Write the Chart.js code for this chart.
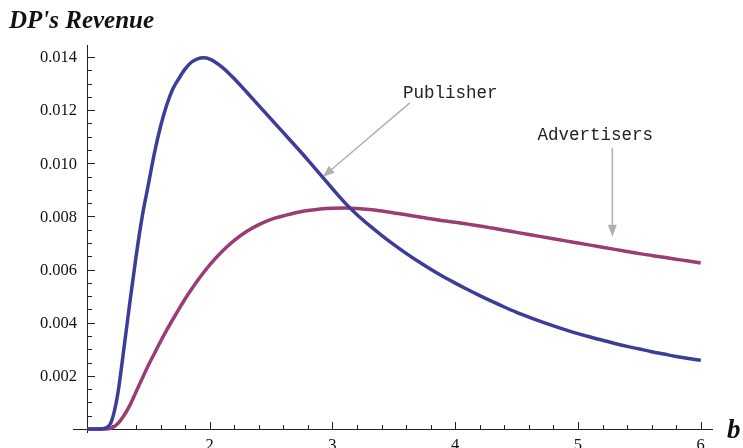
<!DOCTYPE html>
<html>
<head>
<meta charset="utf-8">
<script src="https://cdn.jsdelivr.net/npm/chart.js@4"></script>
<style>
  html, body { margin: 0; padding: 0; background: #fff; }
  #wrap { width: 743px; height: 448px; }
</style>
</head>
<body>
<div id="wrap"><canvas id="revChart" width="743" height="448"></canvas></div>
<script>
// valores de b (eixo x)
const bValues = [
  1.00, 1.05, 1.10, 1.15, 1.20, 1.25, 1.30, 1.35, 1.40, 1.45,
  1.50, 1.55, 1.60, 1.65, 1.70, 1.75, 1.80, 1.85, 1.90, 1.95,
  2.0, 2.1, 2.2, 2.3, 2.4, 2.5, 2.6, 2.7, 2.8, 2.9,
  3.0, 3.1, 3.2, 3.3, 3.4, 3.5, 3.6, 3.7, 3.8, 3.9,
  4.0, 4.1, 4.2, 4.3, 4.4, 4.5, 4.6, 4.7, 4.8, 4.9,
  5.0, 5.1, 5.2, 5.3, 5.4, 5.5, 5.6, 5.7, 5.8, 5.9, 6.0
];

// receita do publisher (curva azul)
const publisherRevenue = [
  0, 0, 0, 0.00003, 0.0003, 0.0013, 0.0030, 0.0048, 0.0065, 0.0080,
  0.0092, 0.0104, 0.0114, 0.0122, 0.0128, 0.0132, 0.01355, 0.0138, 0.01393, 0.01397,
  0.01392, 0.01362, 0.01318, 0.01268, 0.01217, 0.01166, 0.01115, 0.01064, 0.01012, 0.00958,
  0.00904, 0.00852, 0.00806, 0.00766, 0.00729, 0.00694, 0.00661, 0.00630, 0.00601, 0.00574,
  0.00549, 0.00525, 0.00502, 0.00480, 0.00459, 0.00439, 0.00421, 0.00404, 0.00388, 0.00373,
  0.00359, 0.00346, 0.00334, 0.00322, 0.00311, 0.00301, 0.00291, 0.00282, 0.00273, 0.00265, 0.00258
];

// receita dos anunciantes (curva roxa)
const advertiserRevenue = [
  0, 0, 0, 0, 0.00004, 0.0002, 0.0005, 0.0009, 0.0014, 0.0019,
  0.0024, 0.00285, 0.0033, 0.00373, 0.00413, 0.00452, 0.0049, 0.00525, 0.00558, 0.00589,
  0.00618, 0.00668, 0.00710, 0.00743, 0.00769, 0.00789, 0.00802, 0.00814, 0.00822, 0.00828,
  0.00831, 0.00832, 0.00830, 0.00826, 0.00820, 0.00813, 0.00806, 0.00799, 0.00791, 0.00784,
  0.00778, 0.00771, 0.00764, 0.00756, 0.00748, 0.00740, 0.00732, 0.00724, 0.00716, 0.00708,
  0.00700, 0.00692, 0.00684, 0.00676, 0.00668, 0.00660, 0.00653, 0.00646, 0.00639, 0.00632, 0.00625
];

// ticks
const xMajorTicks = [2, 3, 4, 5, 6];
const xMinorTicks = [1.2, 1.4, 1.6, 1.8, 2.2, 2.4, 2.6, 2.8, 3.2, 3.4, 3.6, 3.8,
  4.2, 4.4, 4.6, 4.8, 5.2, 5.4, 5.6, 5.8];
const yMajorTicks = [0.002, 0.004, 0.006, 0.008, 0.010, 0.012, 0.014];
const yMajorLabels = ['0.002', '0.004', '0.006', '0.008', '0.010', '0.012', '0.014'];
const yMinorTicks = [0.0005, 0.001, 0.0015, 0.0025, 0.003, 0.0035, 0.0045, 0.005, 0.0055,
  0.0065, 0.007, 0.0075, 0.0085, 0.009, 0.0095, 0.0105, 0.011, 0.0115,
  0.0125, 0.013, 0.0135];

// anotações (em coordenadas dos dados)
const annotLabels = ['Publisher', 'Advertisers'];
const annotTextPos = [[3.575, 0.01246], [4.67, 0.01088]];
const annotArrowFrom = [[3.63, 0.01227], [5.28, 0.01058]];
const annotArrowTo = [[2.92, 0.00948], [5.28, 0.00723]];

// Plugin que desenha eixos no estilo Mathematica
const axesPlugin = {
  id: 'mmaAxes',
  beforeDatasetsDraw(chart) {
    const ctx = chart.ctx;
    const xs = chart.scales.x;
    const ys = chart.scales.y;
    const x0 = xs.getPixelForValue(1);
    const y0 = ys.getPixelForValue(0);

    ctx.save();
    ctx.strokeStyle = '#222';
    ctx.lineWidth = 1;

    // linhas dos eixos
    ctx.beginPath();
    ctx.moveTo(x0 - 14, y0 + 0.5);
    ctx.lineTo(xs.right, y0 + 0.5);
    ctx.moveTo(x0 + 0.5, ys.top);
    ctx.lineTo(x0 + 0.5, y0 + 4);
    ctx.stroke();

    // ticks em x
    ctx.beginPath();
    xMajorTicks.forEach(v => {
      const p = Math.round(xs.getPixelForValue(v)) + 0.5;
      ctx.moveTo(p, y0); ctx.lineTo(p, y0 - 7);
    });
    xMinorTicks.forEach(v => {
      const p = Math.round(xs.getPixelForValue(v)) + 0.5;
      ctx.moveTo(p, y0); ctx.lineTo(p, y0 - 4);
    });
    // ticks em y
    yMajorTicks.forEach(v => {
      const p = Math.round(ys.getPixelForValue(v)) + 0.5;
      ctx.moveTo(x0, p); ctx.lineTo(x0 + 8, p);
    });
    yMinorTicks.forEach(v => {
      const p = Math.round(ys.getPixelForValue(v)) + 0.5;
      ctx.moveTo(x0, p); ctx.lineTo(x0 + 5, p);
    });
    ctx.stroke();

    // rótulos
    ctx.fillStyle = '#111';
    ctx.font = '16.5px "Liberation Serif", "Times New Roman", serif';
    ctx.textAlign = 'right';
    ctx.textBaseline = 'middle';
    yMajorTicks.forEach((v, i) => {
      ctx.fillText(yMajorLabels[i], x0 - 10, ys.getPixelForValue(v) + 1);
    });
    ctx.textAlign = 'center';
    ctx.textBaseline = 'top';
    xMajorTicks.forEach(v => {
      ctx.fillText(String(v), xs.getPixelForValue(v), y0 + 8);
    });

    // título e rótulo do eixo x
    ctx.textAlign = 'left';
    ctx.textBaseline = 'alphabetic';
    ctx.font = 'italic bold 25px "Liberation Serif", "Times New Roman", serif';
    ctx.fillText("DP's Revenue", 9, 28);
    ctx.font = 'italic bold 27px "Liberation Serif", "Times New Roman", serif';
    ctx.fillText('b', 727, 438);

    // anotações com setas
    ctx.strokeStyle = '#b0b0b0';
    ctx.fillStyle = '#b0b0b0';
    ctx.lineWidth = 1.5;
    annotLabels.forEach((lbl, i) => {
      const fx = xs.getPixelForValue(annotArrowFrom[i][0]);
      const fy = ys.getPixelForValue(annotArrowFrom[i][1]);
      const tx = xs.getPixelForValue(annotArrowTo[i][0]);
      const ty = ys.getPixelForValue(annotArrowTo[i][1]);
      const ang = Math.atan2(ty - fy, tx - fx);
      const head = 12, wid = 4.5;
      const bx = tx - head * Math.cos(ang), by = ty - head * Math.sin(ang);
      ctx.beginPath();
      ctx.moveTo(fx, fy);
      ctx.lineTo(bx, by);
      ctx.stroke();
      ctx.beginPath();
      ctx.moveTo(tx, ty);
      ctx.lineTo(bx + wid * Math.sin(ang), by - wid * Math.cos(ang));
      ctx.lineTo(bx - wid * Math.sin(ang), by + wid * Math.cos(ang));
      ctx.closePath();
      ctx.fill();
    });
    ctx.fillStyle = '#222';
    ctx.font = '17.5px "Liberation Mono", "Courier New", monospace';
    annotLabels.forEach((lbl, i) => {
      ctx.fillText(lbl, xs.getPixelForValue(annotTextPos[i][0]), ys.getPixelForValue(annotTextPos[i][1]));
    });
    ctx.restore();
  }
};

const ctx = document.getElementById('revChart').getContext('2d');
const revChart = new Chart(ctx, {
  type: 'line',
  data: {
    datasets: [
      {
        label: 'Publisher',
        data: bValues.map((b, i) => ({ x: b, y: publisherRevenue[i] })),
        borderColor: '#3d3d99',
        borderWidth: 3.5,
        pointRadius: 0,
        cubicInterpolationMode: 'monotone',
        clip: 6
      },
      {
        label: 'Advertisers',
        data: bValues.map((b, i) => ({ x: b, y: advertiserRevenue[i] })),
        borderColor: '#993d74',
        borderWidth: 3.5,
        pointRadius: 0,
        cubicInterpolationMode: 'monotone',
        clip: 6
      }
    ]
  },
  options: {
    responsive: false,
    animation: false,
    layout: { padding: { left: 87, right: 30, top: 45, bottom: 19 } },
    plugins: { legend: { display: false }, tooltip: { enabled: false } },
    scales: {
      x: { type: 'linear', min: 1, max: 6.1, display: false },
      y: { type: 'linear', min: 0, max: 0.01445, display: false }
    }
  },
  plugins: [axesPlugin]
});
</script>
</body>
</html>
